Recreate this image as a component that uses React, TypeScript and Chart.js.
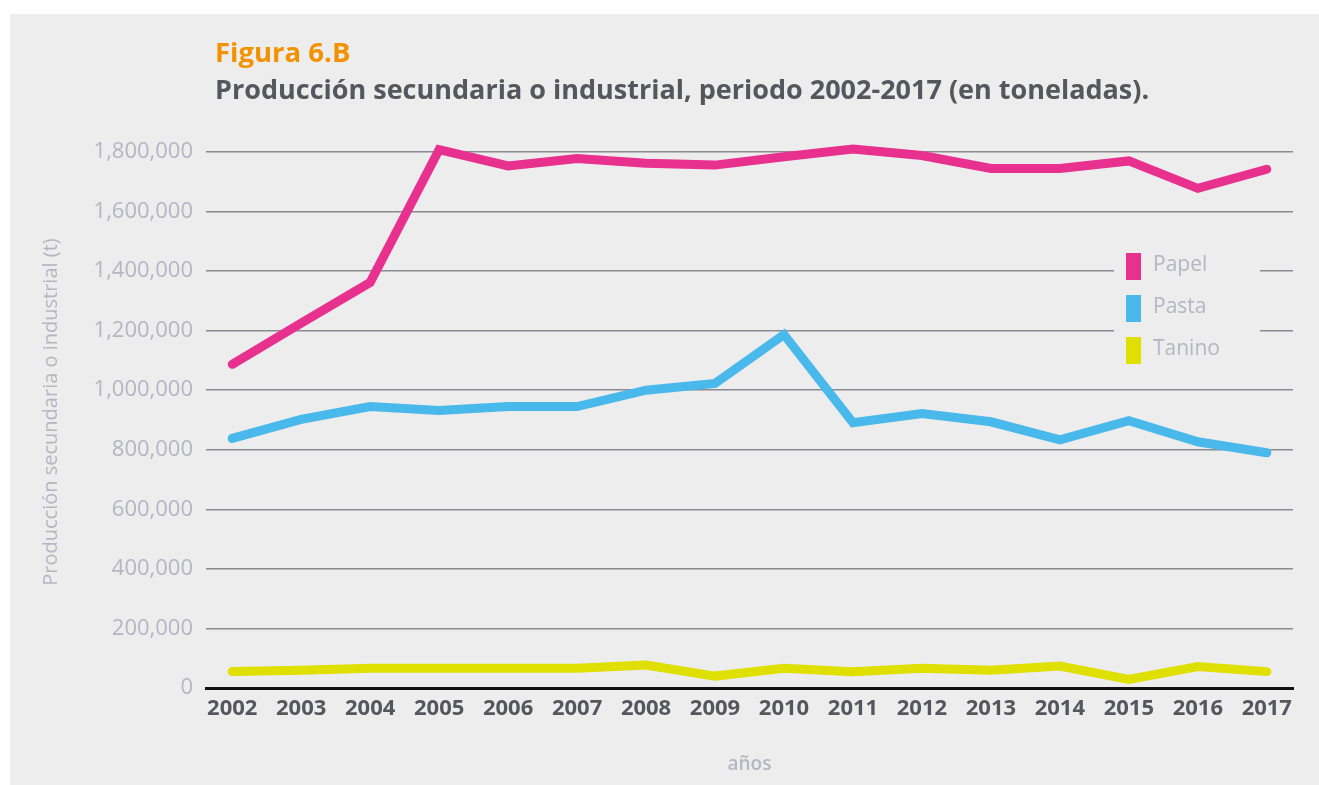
import React, { useEffect, useRef } from "react";
import { Chart, registerables } from "chart.js";

Chart.register(...registerables);

const years = [2002, 2003, 2004, 2005, 2006, 2007, 2008, 2009, 2010, 2011, 2012, 2013, 2014, 2015, 2016, 2017];
const papel = [1087000, 1225000, 1362000, 1808000, 1753000, 1778000, 1762000, 1756000, 1784000, 1810000, 1788000, 1745000, 1745000, 1770000, 1678000, 1742000];
const pasta = [838000, 902000, 945000, 932000, 945000, 945000, 1000000, 1023000, 1187000, 891000, 922000, 894000, 833000, 898000, 827000, 790000];
const tanino = [55000, 60000, 66000, 66000, 66000, 66000, 77000, 40000, 66000, 55000, 66000, 60000, 74000, 29000, 72000, 55000];
const yTicks = [0, 200000, 400000, 600000, 800000, 1000000, 1200000, 1400000, 1600000, 1800000];

const seriesNames = ["Papel", "Pasta", "Tanino"];
const seriesColors = ["#e8308f", "#48b9ea", "#dfdf00"];

const titleText = "Figura 6.B";
const subtitleText = "Producción secundaria o industrial, periodo 2002-2017 (en toneladas).";
const yTitle = "Producción secundaria o industrial (t)";
const xTitle = "años";

const PANEL = "#ededed";
const FONT = "'Open Sans', 'DejaVu Sans', sans-serif";

const decorPlugin = {
  id: "decor",
  afterDraw(chart: any) {
    const ctx = chart.ctx;
    const ca = chart.chartArea;
    ctx.save();
    // titles
    ctx.textAlign = "left";
    ctx.textBaseline = "alphabetic";
    ctx.fillStyle = "#f39200";
    ctx.font = `700 27.5px ${FONT}`;
    ctx.fillText(titleText, ca.left + 9, 48);
    ctx.fillStyle = "#55565e";
    ctx.font = `700 27px ${FONT}`;
    ctx.fillText(subtitleText, ca.left + 9, 85);

    // y title
    ctx.save();
    ctx.translate(41, 398);
    ctx.rotate(-Math.PI / 2);
    ctx.textAlign = "center";
    ctx.textBaseline = "middle";
    ctx.fillStyle = "#b5b5c3";
    ctx.font = `400 20px ${FONT}`;
    ctx.fillText(yTitle, 0, 0);
    ctx.restore();

    // x title
    ctx.textAlign = "center";
    ctx.textBaseline = "middle";
    ctx.fillStyle = "#b5b5c3";
    ctx.font = `600 19px ${FONT}`;
    ctx.fillText(xTitle, (ca.left + ca.right) / 2, 751);
    ctx.restore();
  },
  afterDatasetsDraw(chart: any) {
    const ctx = chart.ctx;
    ctx.save();
    const bx = 1104, by = 226, bw = 146, bh = 136;
    ctx.fillStyle = PANEL;
    ctx.fillRect(bx, by, bw, bh);
    chart.data.datasets.forEach((ds: any, i: number) => {
      const top = 239 + i * 42;
      ctx.fillStyle = ds.borderColor;
      ctx.fillRect(1116, top, 15, 27);
      ctx.fillStyle = "#b5b5c3";
      ctx.font = `400 21px ${FONT}`;
      ctx.textAlign = "left";
      ctx.textBaseline = "middle";
      ctx.fillText(ds.label, 1143, top + 12);
    });
    ctx.restore();
  },
};

export default function App() {
  const ref = useRef<HTMLCanvasElement | null>(null);
  useEffect(() => {
    document.body.style.margin = "0";
    const datasets = [papel, pasta, tanino].map((vals, i) => ({
      label: seriesNames[i],
      data: vals.map((v, j) => ({ x: years[j], y: v })),
      borderColor: seriesColors[i],
      backgroundColor: seriesColors[i],
      borderWidth: 9,
      borderCapStyle: "round" as const,
      borderJoinStyle: "miter" as const,
      pointRadius: 0,
      pointHoverRadius: 0,
      tension: 0,
      clip: false as any,
    }));
    const chart = new Chart(ref.current as HTMLCanvasElement, {
      type: "line",
      data: { datasets },
      plugins: [decorPlugin],
      options: {
        animation: false,
        responsive: false,
        maintainAspectRatio: false,
        layout: { padding: { top: 138, right: 26, bottom: 0, left: 0 } },
        plugins: { legend: { display: false }, tooltip: { enabled: false }, title: { display: false } },
        scales: {
          x: {
            type: "linear",
            min: 2001.62,
            max: 2017.38,
            afterFit: (s: any) => { s.height = 97; },
            afterBuildTicks: (s: any) => { s.ticks = years.map((v) => ({ value: v })); },
            grid: { display: false, drawTicks: false },
            border: { display: true, color: "#111111", width: 3 },
            ticks: {
              padding: 8,
              autoSkip: false,
              maxRotation: 0,
              color: "#56565f",
              font: { family: FONT, size: 22, weight: "bold" },
              callback: (v: any) => String(v),
            },
          },
          y: {
            min: 0,
            max: 1800000,
            afterFit: (s: any) => { s.width = 196; },
            afterBuildTicks: (s: any) => { s.ticks = yTicks.map((v) => ({ value: v })); },
            grid: {
              drawTicks: false,
              lineWidth: 1.5,
              color: (c: any) => (c.tick && c.tick.value === 0 ? "rgba(0,0,0,0)" : "#8a8a92"),
            },
            border: { display: false },
            ticks: {
              padding: 13,
              color: "#b5b5c3",
              font: { family: FONT, size: 22, weight: "normal" },
              callback: (v: any) => Number(v).toLocaleString("en-US"),
            },
          },
        },
      },
    });
    return () => chart.destroy();
  }, []);
  return (
    <div style={{ position: "relative", width: 1319, height: 785, background: "#ffffff", overflow: "hidden" }}>
      <div style={{ position: "absolute", left: 10, top: 14, width: 1309, height: 771, background: PANEL }}>
        <canvas ref={ref} width={1309} height={771} style={{ display: "block", width: 1309, height: 771 }} />
      </div>
    </div>
  );
}
